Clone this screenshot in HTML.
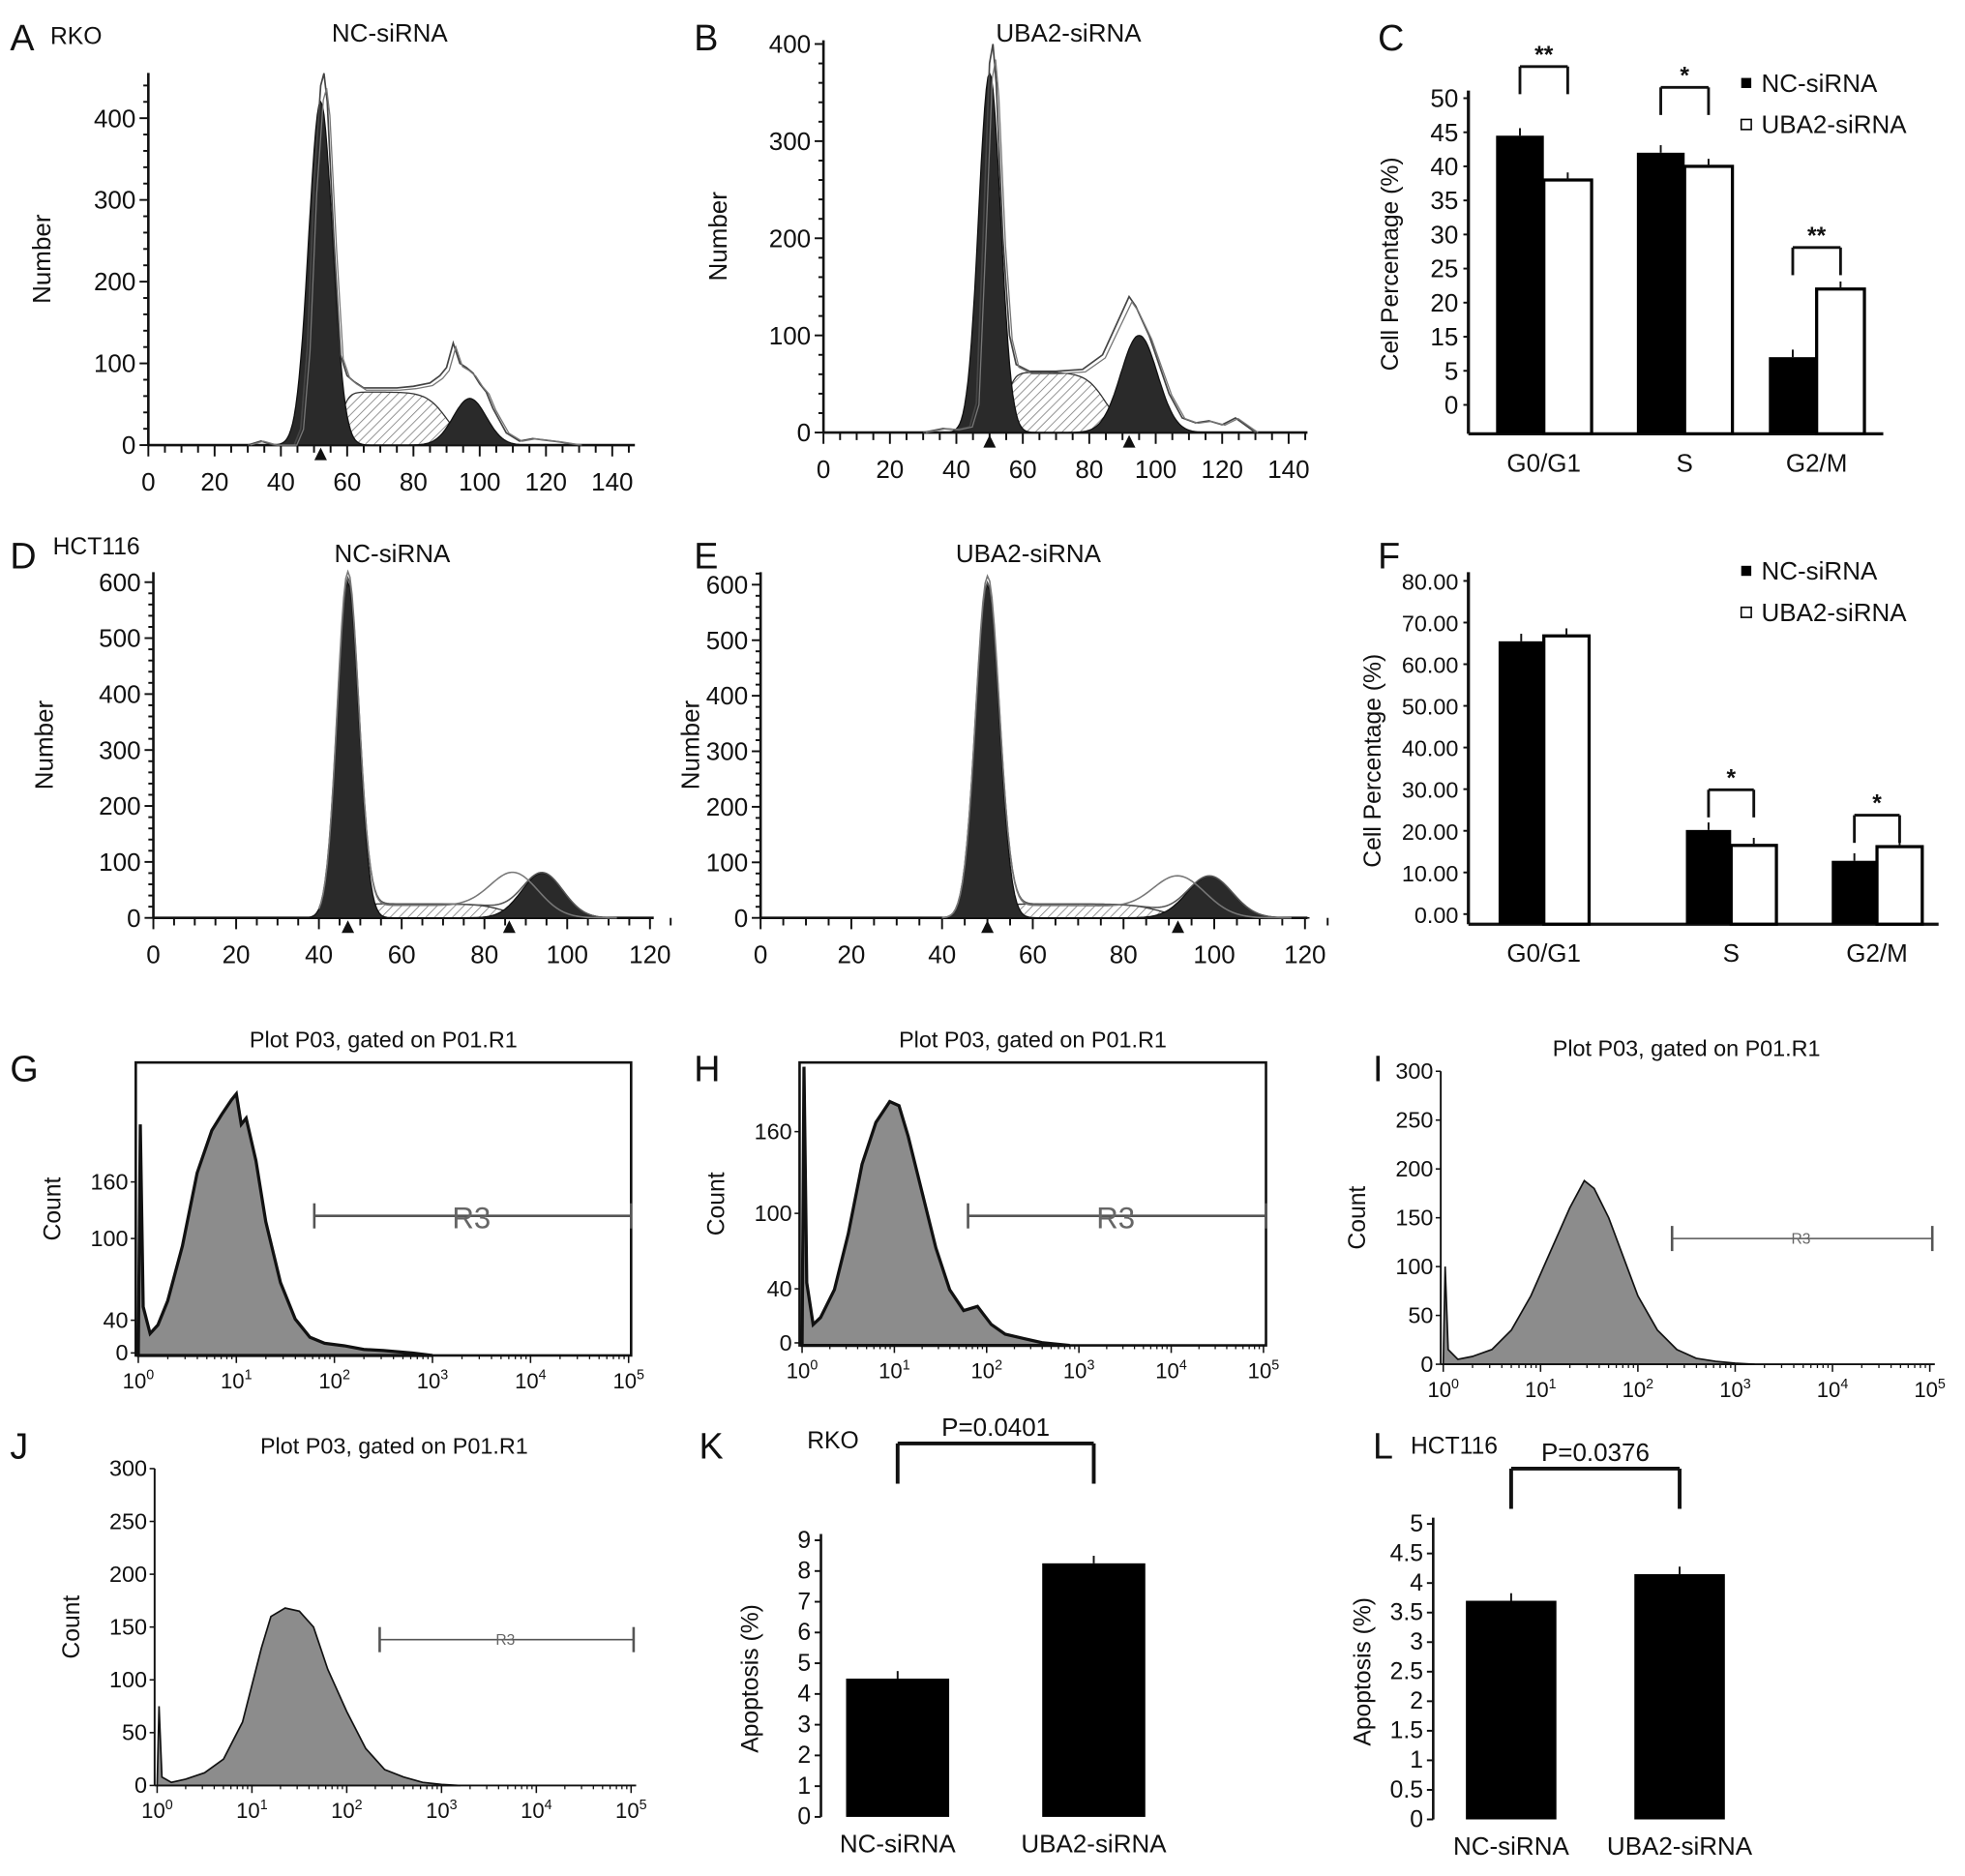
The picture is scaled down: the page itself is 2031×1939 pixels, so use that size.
<!DOCTYPE html>
<html><head><meta charset="utf-8"><style>
html,body{margin:0;padding:0;background:#fff}
svg{display:block;font-family:"Liberation Sans",Arial,sans-serif}
</style></head><body>
<svg id="fig" width="2031" height="1939" viewBox="0 0 1563 1492" preserveAspectRatio="none" xmlns="http://www.w3.org/2000/svg">
<defs><pattern id="hatch" patternUnits="userSpaceOnUse" width="5" height="5" patternTransform="rotate(45)"><rect width="5" height="5" fill="#fff"/><line x1="0" y1="0" x2="0" y2="5" stroke="#777" stroke-width="1.2"/></pattern></defs>
<g id="root"></g>
</svg>
<script>
// ---------- DATA ----------
const phases = ["G0/G1","S","G2/M"];
const cNC = [44.5,42,9];
const cUBA = [38,40,22];
const fNC = [65.5,20.2,12.8];
const fUBA = [66.8,16.5,16.2];
const apoCats = ["NC-siRNA","UBA2-siRNA"];
const kVals = [4.5,8.25];
const lVals = [3.7,4.15];
const cTickLabels = [0,5,15,20,25,30,35,40,45,50];
// cell-cycle component params: [g1Center,g1Height,g1Sigma, sStart,sEnd,sHeight, g2Center,g2Height,g2Sigma]
const aComp = [52,420,3.6, 58,90,65, 97,57,5];
const bComp = [50,370,3.3, 55,85,62, 95,100,5.5];
const dComp = [47,600,2.6, 48,85,25, 94,80,5];
const eComp = [50,600,2.6, 52,88,25, 99,75,5];
// raw histogram counts
const aRawX = [30,34,38,44,46,48,50,52,53,54,56,58,60,62,65,70,75,80,85,88,90,92,94,96,98,100,102,104,108,112,116,120,124,130];
const aRawY = [0,5,0,0,20,120,320,440,455,420,250,110,85,78,70,70,70,72,76,85,95,125,100,95,88,75,65,45,15,5,8,6,4,0];
const bRawX = [30,36,40,44,46,48,50,51,52,54,56,58,62,70,78,84,88,90,92,94,96,98,100,104,108,112,116,120,124,128,130];
const bRawY = [0,4,3,6,30,200,380,400,360,200,100,70,63,63,65,80,110,125,140,130,115,100,80,40,15,10,12,8,15,5,0];
// log flow histograms
const gX = [0,0.02,0.05,0.12,0.2,0.3,0.45,0.6,0.75,0.85,0.95,1.0,1.05,1.1,1.2,1.3,1.45,1.6,1.75,1.9,2.1,2.3,2.5,2.8,3.0];
const gY = [0,190,40,18,25,45,90,150,185,198,210,215,190,195,160,110,60,30,15,10,8,5,4,2,0];
const hX = [0,0.02,0.05,0.12,0.2,0.35,0.5,0.65,0.8,0.95,1.05,1.15,1.3,1.45,1.6,1.75,1.9,2.05,2.2,2.4,2.6,2.9];
const hY = [0,200,45,15,20,40,80,130,160,175,172,150,110,70,40,25,28,15,8,5,2,0];
const iX = [0,0.02,0.05,0.15,0.3,0.5,0.7,0.9,1.1,1.3,1.45,1.55,1.7,1.85,2.0,2.2,2.4,2.6,2.8,3.0,3.2];
const iY = [0,100,15,5,8,15,35,70,115,160,188,180,150,110,70,35,15,6,3,1,0];
const jX = [0,0.02,0.05,0.15,0.3,0.5,0.7,0.9,1.1,1.2,1.35,1.5,1.65,1.8,2.0,2.2,2.4,2.6,2.8,3.0,3.2];
const jY = [0,75,8,3,6,12,25,60,130,160,168,165,150,110,70,35,15,8,3,1,0];

// ---------- helpers ----------
const NS="http://www.w3.org/2000/svg";
const root=document.getElementById('root');
function el(tag,attrs,parent,txt){const e=document.createElementNS(NS,tag);for(const k in attrs)e.setAttribute(k,attrs[k]);if(txt!==undefined)e.textContent=txt;(parent||root).appendChild(e);return e;}
function T(x,y,s,size,anchor,parent,weight){return el('text',{x:x,y:y,'font-size':size||18,'text-anchor':anchor||'middle',fill:'#111','font-weight':weight||'normal'},parent,s);}
function L(x1,y1,x2,y2,w,parent,c){return el('line',{x1,y1,x2,y2,stroke:c||'#111','stroke-width':w||1.5},parent);}
function lin(d0,d1,r0,r1){return v=>r0+(v-d0)/(d1-d0)*(r1-r0);}
function piece(vals,y0,step){return v=>{for(let i=1;i<vals.length;i++){if(v<=vals[i]||i==vals.length-1){const f=(v-vals[i-1])/(vals[i]-vals[i-1]);return y0-(i-1+f)*step;}}};}
function gauss(x,c,h,s){return h*Math.exp(-0.5*((x-c)/s)**2);}
function sPlat(x,a,b,h){return h/(1+Math.exp(-(x-a)/1.2))/(1+Math.exp((x-b)/3));}
function letter(ch,x,y){const t=T(x,y,ch,29,'start');}

// ---------- cell-cycle histogram ----------
function cellHist(id,o,comp,rawX,rawY){
  const g=el('g',{});
  const X=lin(0,o.xmax,o.x0,o.x1),Y=lin(0,o.ymaxv,o.y0,o.yTop);
  L(o.x0,o.y0,o.axEnd,o.y0,2,g);L(o.x0,o.y0,o.x0,o.axTop,2,g);
  for(let v=0;v<=o.xmax+5;v+=5){L(X(v),o.y0,X(v),o.y0+(v%20==0?9:6),1.5,g);}
  for(let v=0;v<=o.xmax;v+=20){T(X(v),o.y0+36,String(v),20,'middle',g);}
  for(let v=0;Y(v)>=o.axTop;v+=20){L(o.x0-(v%100==0?7:4),Y(v),o.x0,Y(v),1.5,g);}
  for(let v=0;Y(v)>=o.axTop-2;v+=100){T(o.x0-10,Y(v)+7,String(v),20,'end',g);}
  const yt=T(0,0,'Number',20,'middle',g);yt.setAttribute('transform',`translate(${o.yTitleX},${(o.y0+o.axTop)/2}) rotate(-90)`);
  
  const pts=f=>{let s=[];for(let x=comp[0]-16;x<=comp[6]+22;x+=0.5)s.push(X(x).toFixed(1)+','+Y(f(x)).toFixed(1));return s;};
  const s=el('polygon',{points:[X(comp[0]-16)+','+o.y0,...pts(x=>sPlat(x,comp[3],comp[4],comp[5])),X(comp[6]+22)+','+o.y0].join(' '),fill:'url(#hatch)',stroke:'#333','stroke-width':1},g);
  
  const g1=el('polygon',{points:[X(comp[0]-16)+','+o.y0,...pts(x=>gauss(x,comp[0],comp[1],comp[2])),X(comp[6]+22)+','+o.y0].join(' '),fill:'#2a2a2a',stroke:'#111','stroke-width':1},g);
  
  const g2=el('polygon',{points:[X(comp[0]-16)+','+o.y0,...pts(x=>gauss(x,comp[6],comp[7],comp[8])),X(comp[6]+22)+','+o.y0].join(' '),fill:'#2a2a2a',stroke:'#111','stroke-width':1},g);
  
  if(rawX){
    const r=el('polyline',{points:rawX.map((x,i)=>X(x).toFixed(1)+','+Y(rawY[i]).toFixed(1)).join(' '),fill:'none',stroke:'#444','stroke-width':1.3},g);
    
    const r2=el('polyline',{points:rawX.map((x,i)=>X(x+0.8).toFixed(1)+','+Y(rawY[i]*0.96).toFixed(1)).join(' '),fill:'none',stroke:'#777','stroke-width':1},g);
    
  } else {
    const env=[];const env2=[];for(let x=40;x<=comp[6]+18;x+=0.5){env.push(X(x)+','+Y(gauss(x,comp[0],comp[1],comp[2])+sPlat(x,comp[3],comp[4],comp[5])+gauss(x,comp[6],comp[7],comp[8])));env2.push(X(x)+','+Y(gauss(x,comp[0],comp[1],comp[2])+sPlat(x,comp[3]-3,comp[4]-6,comp[5]*0.9)+gauss(x,comp[6]-7,comp[7],comp[8]+1)));}
    const e1=el('polyline',{points:env.join(' '),fill:'none',stroke:'#555','stroke-width':1.2},g);
    const e2=el('polyline',{points:env2.join(' '),fill:'none',stroke:'#777','stroke-width':1.2},g);
  }
  [comp[0],o.mark2].forEach(m=>{if(m)el('polygon',{points:`${X(m)-5},${o.y0+12} ${X(m)+5},${o.y0+12} ${X(m)},${o.y0+2}`,fill:'#111'},g);});
  const tt=T(o.titleX,o.titleY,o.title,20,'middle',g);
}
cellHist('panel-a-histogram',{x0:118,x1:487,xmax:140,axEnd:505,y0:354,yTop:94,ymaxv:400,axTop:58,title:'NC-siRNA',titleX:310,titleY:33,yTitleX:40},aComp,aRawX,aRawY);
cellHist('panel-b-histogram',{x0:655,x1:1025,xmax:140,axEnd:1040,y0:344,yTop:35,ymaxv:400,axTop:32,title:'UBA2-siRNA',titleX:850,titleY:33,mark2:92,yTitleX:578},bComp,bRawX,bRawY);
cellHist('panel-d-histogram',{x0:122,x1:517,xmax:120,axEnd:520,y0:730,yTop:463,ymaxv:600,axTop:455,title:'NC-siRNA',titleX:312,titleY:447,mark2:86,yTitleX:42},dComp,null,null);
cellHist('panel-e-histogram',{x0:605,x1:1038,xmax:120,axEnd:1040,y0:730,yTop:465,ymaxv:600,axTop:455,title:'UBA2-siRNA',titleX:818,titleY:447,mark2:92,yTitleX:556},eComp,null,null);
T(40,35,'RKO',19,'start');T(42,441,'HCT116',19,'start');
letter('A',8,40);letter('B',552,40);letter('D',8,452);letter('E',552,452);

// ---------- grouped bar charts ----------
function groupBars(id,o,nc,uba){
  const g=el('g',{});
  const Y=o.Y;
  L(o.x0,o.base,o.x1,o.base,2.5,g);L(o.x0,o.base,o.x0,o.axTop,2.5,g);
  o.ticks.forEach(v=>{const y=Y(v);L(o.x0-4,y,o.x0,y,1.5,g);T(o.x0-8,y+7,o.fmt(v),o.tfs,'end',g);});
  const yt=T(0,0,'Cell Percentage (%)',19,'middle',g);yt.setAttribute('transform',`translate(${o.ytx},${o.yty}) rotate(-90)`);
  
  phases.forEach((p,i)=>{
    const cx=o.centers[i],w=o.bw;
    const b1=el('rect',{x:cx-w,y:Y(nc[i]),width:w,height:o.base-Y(nc[i]),fill:'#000'},g);
    
    const b2=el('rect',{x:cx,y:Y(uba[i]),width:w,height:o.base-Y(uba[i]),fill:'#fff',stroke:'#000','stroke-width':2.5},g);
    
    L(cx-w/2,Y(nc[i]),cx-w/2,Y(nc[i])-6,1.5,g);L(cx+w/2,Y(uba[i]),cx+w/2,Y(uba[i])-6,1.5,g);
    T(cx,o.base+30,p,20,'middle',g);
    if(o.sig[i]){const top=Y(Math.max(nc[i],uba[i]))-o.brk[i];L(cx-w/2,top+22,cx-w/2,top,2.2,g);L(cx-w/2,top,cx+w/2,top,2.2,g);L(cx+w/2,top,cx+w/2,top+22,2.2,g);T(cx,top-3,o.sig[i],19,'middle',g,'bold');}
  });
  const lg=el('g',{},g);
  el('rect',{x:o.lx,y:o.ly-11,width:8,height:8,fill:'#000'},lg);T(o.lx+16,o.ly,'NC-siRNA',20,'start',lg);
  el('rect',{x:o.lx,y:o.ly+22,width:8,height:8,fill:'#fff',stroke:'#000','stroke-width':1.2},lg);T(o.lx+16,o.ly+33,'UBA2-siRNA',20,'start',lg);
}
groupBars('panel-c-bars',{x0:1168,x1:1498,base:345,Y:piece(cTickLabels,322,27.1),axTop:72,ticks:cTickLabels,fmt:v=>String(v),tfs:20,centers:[1228,1340,1445],bw:38,sig:['**','*','**'],brk:[55,52,33],lx:1385,ly:73,ytx:1112,yty:210},cNC,cUBA);
groupBars('panel-f-bars',{x0:1168,x1:1542,base:735,Y:lin(0,80,727,462),axTop:455,ticks:[0,10,20,30,40,50,60,70,80],fmt:v=>v.toFixed(2),tfs:18,centers:[1228,1377,1493],bw:36,sig:[null,'*','*'],brk:[0,32,25],lx:1385,ly:461,ytx:1098,yty:605},fNC,fUBA);
letter('C',1096,40);letter('F',1096,452);

// ---------- flow histograms (log) ----------
function flow(id,o,xs,ys){
  const g=el('g',{});
  const X=lin(0,5,o.x0,o.x1),Y=lin(0,o.ymax,o.y1,o.yTop);
  const p=[X(0)+','+o.y1,...xs.map((x,i)=>X(x).toFixed(1)+','+Y(ys[i]).toFixed(1)),X(xs[xs.length-1])+','+o.y1].join(' ');
  const a=el('polygon',{points:p,fill:'#8c8c8c',stroke:'#111','stroke-width':o.thick?2.5:1.3},g);
  
  if(o.box)el('rect',{x:o.x0-2,y:o.y0,width:o.x1-o.x0+4,height:o.y1-o.y0,fill:'none',stroke:'#111','stroke-width':2},g);
  else{L(o.x0-2,o.y1,o.x1+4,o.y1,1.5,g);L(o.x0-2,o.y1,o.x0-2,o.y0,1.5,g);}
  for(let d=0;d<=5;d++){L(X(d),o.y1,X(d),o.y1+6,1.2,g);const t=T(X(d),o.y1+26,'10',17,'middle',g);el('tspan',{dy:-7,'font-size':11},t,String(d));
    for(let m=2;m<10&&d<5;m++)L(X(d+Math.log10(m)),o.y1,X(d+Math.log10(m)),o.y1+3,1,g);}
  o.ticks.forEach((v,i)=>{const y=o.tickY?o.tickY[i]:Y(v);L(o.x0-6,y,o.x0-2,y,1.2,g);T(o.x0-8,y+6,String(v),18,'end',g);});
  const yt=T(0,0,'Count',19,'middle',g);yt.setAttribute('transform',`translate(${o.x0-62},${(o.y0+o.y1)/2}) rotate(-90)`);
  
  const r=el('g',{},g);
  L(o.rx,o.ry,o.x1+2,o.ry,o.thick?2:1.2,r,'#555');L(o.rx,o.ry-10,o.rx,o.ry+10,2,r,'#555');L(o.x1+2,o.ry-10,o.x1+2,o.ry+10,2,r,'#555');
  T((o.rx+o.x1)/2,o.ry+(o.thick?10:4),'R3',o.thick?24:12,'middle',r).setAttribute('fill','#666');
  const tt=T((o.x0+o.x1)/2,o.y0-12,'Plot P03, gated on P01.R1',18,'middle',g);
}
flow('panel-g-flow',{x0:110,x1:500,y0:845,y1:1078,yTop:870,ymax:215,box:true,thick:true,ticks:[0,40,100,160],tickY:[1076,1050,985,940],rx:250,ry:967},gX,gY);
flow('panel-h-flow',{x0:638,x1:1005,y0:845,y1:1070,yTop:865,ymax:185,box:true,thick:true,ticks:[0,40,100,160],tickY:[1068,1025,965,900],rx:770,ry:967},hX,hY);
flow('panel-i-flow',{x0:1148,x1:1535,y0:852,y1:1085,yTop:852,ymax:300,box:false,ticks:[0,50,100,150,200,250,300],rx:1330,ry:985},iX,iY);
flow('panel-j-flow',{x0:125,x1:502,y0:1168,y1:1420,yTop:1168,ymax:300,box:false,ticks:[0,50,100,150,200,250,300],rx:302,ry:1304},jX,jY);
letter('G',8,860);letter('H',552,860);letter('I',1092,860);letter('J',8,1160);

// ---------- apoptosis bars ----------
function apo(id,o,vals){
  const g=el('g',{});
  const Y=lin(0,o.ymax,o.y0,o.yTop);
  L(o.x0,o.y0,o.x0,o.yTop-5,2,g);
  o.ticks.forEach(v=>{L(o.x0-5,Y(v),o.x0,Y(v),1.5,g);T(o.x0-8,Y(v)+6,String(v),19,'end',g);});
  vals.forEach((v,i)=>{const c=o.centers[i];
    const b=el('rect',{x:c-o.bw/2,y:Y(v),width:o.bw,height:o.y0-Y(v),fill:'#000'},g);
    
    L(c,Y(v),c,Y(v)-6,1.5,g);T(c,o.y0+28,apoCats[i],20,'middle',g);});
  const yt=T(0,0,'Apoptosis (%)',19,'middle',g);yt.setAttribute('transform',`translate(${o.x0-50},${(o.y0+o.yTop)/2}) rotate(-90)`);
  
  const c0=o.centers[0],c1=o.centers[1];
  L(c0,o.bt+32,c0,o.bt,3,g);L(c0,o.bt,c1,o.bt,3,g);L(c1,o.bt,c1,o.bt+32,3,g);
  T((c0+c1)/2,o.bt-6,o.p,20,'middle',g);T(o.cx,o.cy,o.cell,19,'start',g);
}
apo('panel-k-apoptosis',{x0:653,y0:1445,yTop:1225,ymax:9,ticks:[0,1,2,3,4,5,6,7,8,9],centers:[714,870],bw:82,bt:1148,p:'P=0.0401',cell:'RKO',cx:642,cy:1152},kVals);
apo('panel-l-apoptosis',{x0:1140,y0:1447,yTop:1212,ymax:5,ticks:[0,0.5,1,1.5,2,2.5,3,3.5,4,4.5,5],centers:[1202,1336],bw:72,bt:1168,p:'P=0.0376',cell:'HCT116',cx:1122,cy:1156},lVals);
letter('K',556,1160);letter('L',1092,1160);
</script>
</body></html>
